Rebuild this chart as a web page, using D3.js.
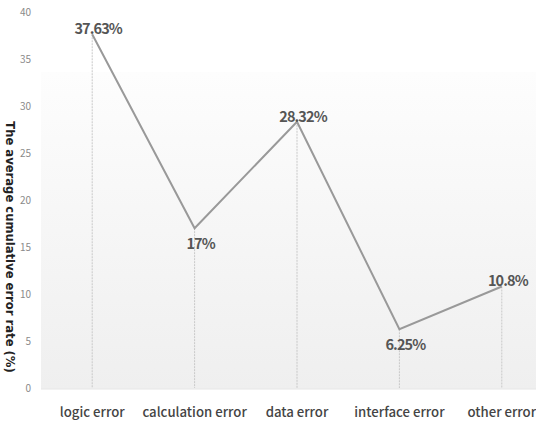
<!DOCTYPE html>
<html>
<head>
<meta charset="utf-8">
<script src="https://cdn.jsdelivr.net/npm/d3@7"></script>
<style>
  html, body { margin: 0; padding: 0; background: #fff; }
  svg { display: block; }
</style>
</head>
<body>
<svg id="chart" width="536" height="426"></svg>
<script>
// Error categories and their average cumulative error rate (%)
const categories = ["logic error", "calculation error", "data error", "interface error", "other error"];
const rates = [37.63, 17, 28.32, 6.25, 10.8];
const rateLabels = ["37.63%", "17%", "28.32%", "6.25%", "10.8%"];
const labelBelow = [false, true, false, true, false];
const yTicks = [0, 5, 10, 15, 20, 25, 30, 35, 40];

const svg = d3.select("#chart");
const W = 536, H = 426;
const plot = { left: 41, right: 553, top: 12, bottom: 388 };

const x = d3.scaleBand().domain(categories).range([plot.left, plot.right]);
const y = d3.scaleLinear().domain([0, 40]).range([plot.bottom, plot.top]);
const cx = d => x(d) + x.bandwidth() / 2;

// soft gray backdrop behind the plot
const defs = svg.append("defs");
const grad = defs.append("linearGradient").attr("id", "bg").attr("x1", 0).attr("y1", 0).attr("x2", 0).attr("y2", 1);
grad.append("stop").attr("offset", "0%").attr("stop-color", "#fdfdfd");
grad.append("stop").attr("offset", "100%").attr("stop-color", "#efefef");
svg.append("rect")
  .attr("x", plot.left).attr("y", 72)
  .attr("width", W - plot.left).attr("height", plot.bottom + 1 - 72)
  .attr("fill", "url(#bg)");
svg.append("line")
  .attr("x1", plot.left).attr("x2", W)
  .attr("y1", plot.bottom + 1).attr("y2", plot.bottom + 1)
  .attr("stroke", "#e6e6e6").attr("stroke-width", 1);

// y axis tick labels
const yAxis = d3.axisLeft(y).tickValues(yTicks).tickSize(0).tickPadding(0);
const gy = svg.append("g").attr("transform", "translate(31,0)").call(yAxis);
gy.select(".domain").remove();
gy.selectAll("text")
  .attr("fill", "#8a8a8a")
  .style("font-family", "'Noto Sans CJK KR', 'Noto Sans', sans-serif")
  .style("font-size", "10px");

// y axis title
svg.append("text")
  .attr("transform", `translate(6,${(plot.top + plot.bottom) / 2 + 47}) rotate(90)`)
  .attr("text-anchor", "middle")
  .attr("fill", "#222")
  .style("font-family", "'DejaVu Sans', sans-serif")
  .style("font-weight", "bold")
  .style("font-size", "11.6px")
  .text("The average cumulative error rate (%)");

// x axis category labels
const xAxis = d3.axisBottom(x).tickSize(0).tickPadding(0);
const gx = svg.append("g").attr("transform", `translate(0,${plot.bottom + 29})`).call(xAxis);
gx.select(".domain").remove();
gx.selectAll("text")
  .attr("fill", "#444")
  .attr("dy", 0)
  .style("font-family", "'Noto Sans CJK KR', 'Noto Sans', sans-serif")
  .style("font-weight", "500")
  .style("font-size", "13.2px");

// drop lines from each point to the baseline
svg.append("g").selectAll("line")
  .data(categories)
  .join("line")
  .attr("x1", d => cx(d)).attr("x2", d => cx(d))
  .attr("y1", (d, i) => y(rates[i])).attr("y2", plot.bottom)
  .attr("stroke", "#c8c8c8")
  .attr("stroke-width", 1)
  .attr("stroke-dasharray", "2,1");

// the rate line
const line = d3.line().x((d, i) => cx(categories[i])).y(d => y(d));
svg.append("path")
  .datum(rates)
  .attr("d", line)
  .attr("fill", "none")
  .attr("stroke", "#999")
  .attr("stroke-width", 2);

// value labels
svg.append("g").selectAll("text")
  .data(rates)
  .join("text")
  .attr("x", (d, i) => cx(categories[i]) + 6)
  .attr("y", (d, i) => y(d) + (labelBelow[i] ? 21 : 0))
  .attr("text-anchor", "middle")
  .attr("fill", "#555")
  .style("font-family", "'Noto Sans CJK KR', 'Noto Sans', sans-serif")
  .style("font-weight", "bold")
  .style("font-size", "14.5px")
  .style("letter-spacing", "-0.9px")
  .text((d, i) => rateLabels[i]);
</script>
</body>
</html>
